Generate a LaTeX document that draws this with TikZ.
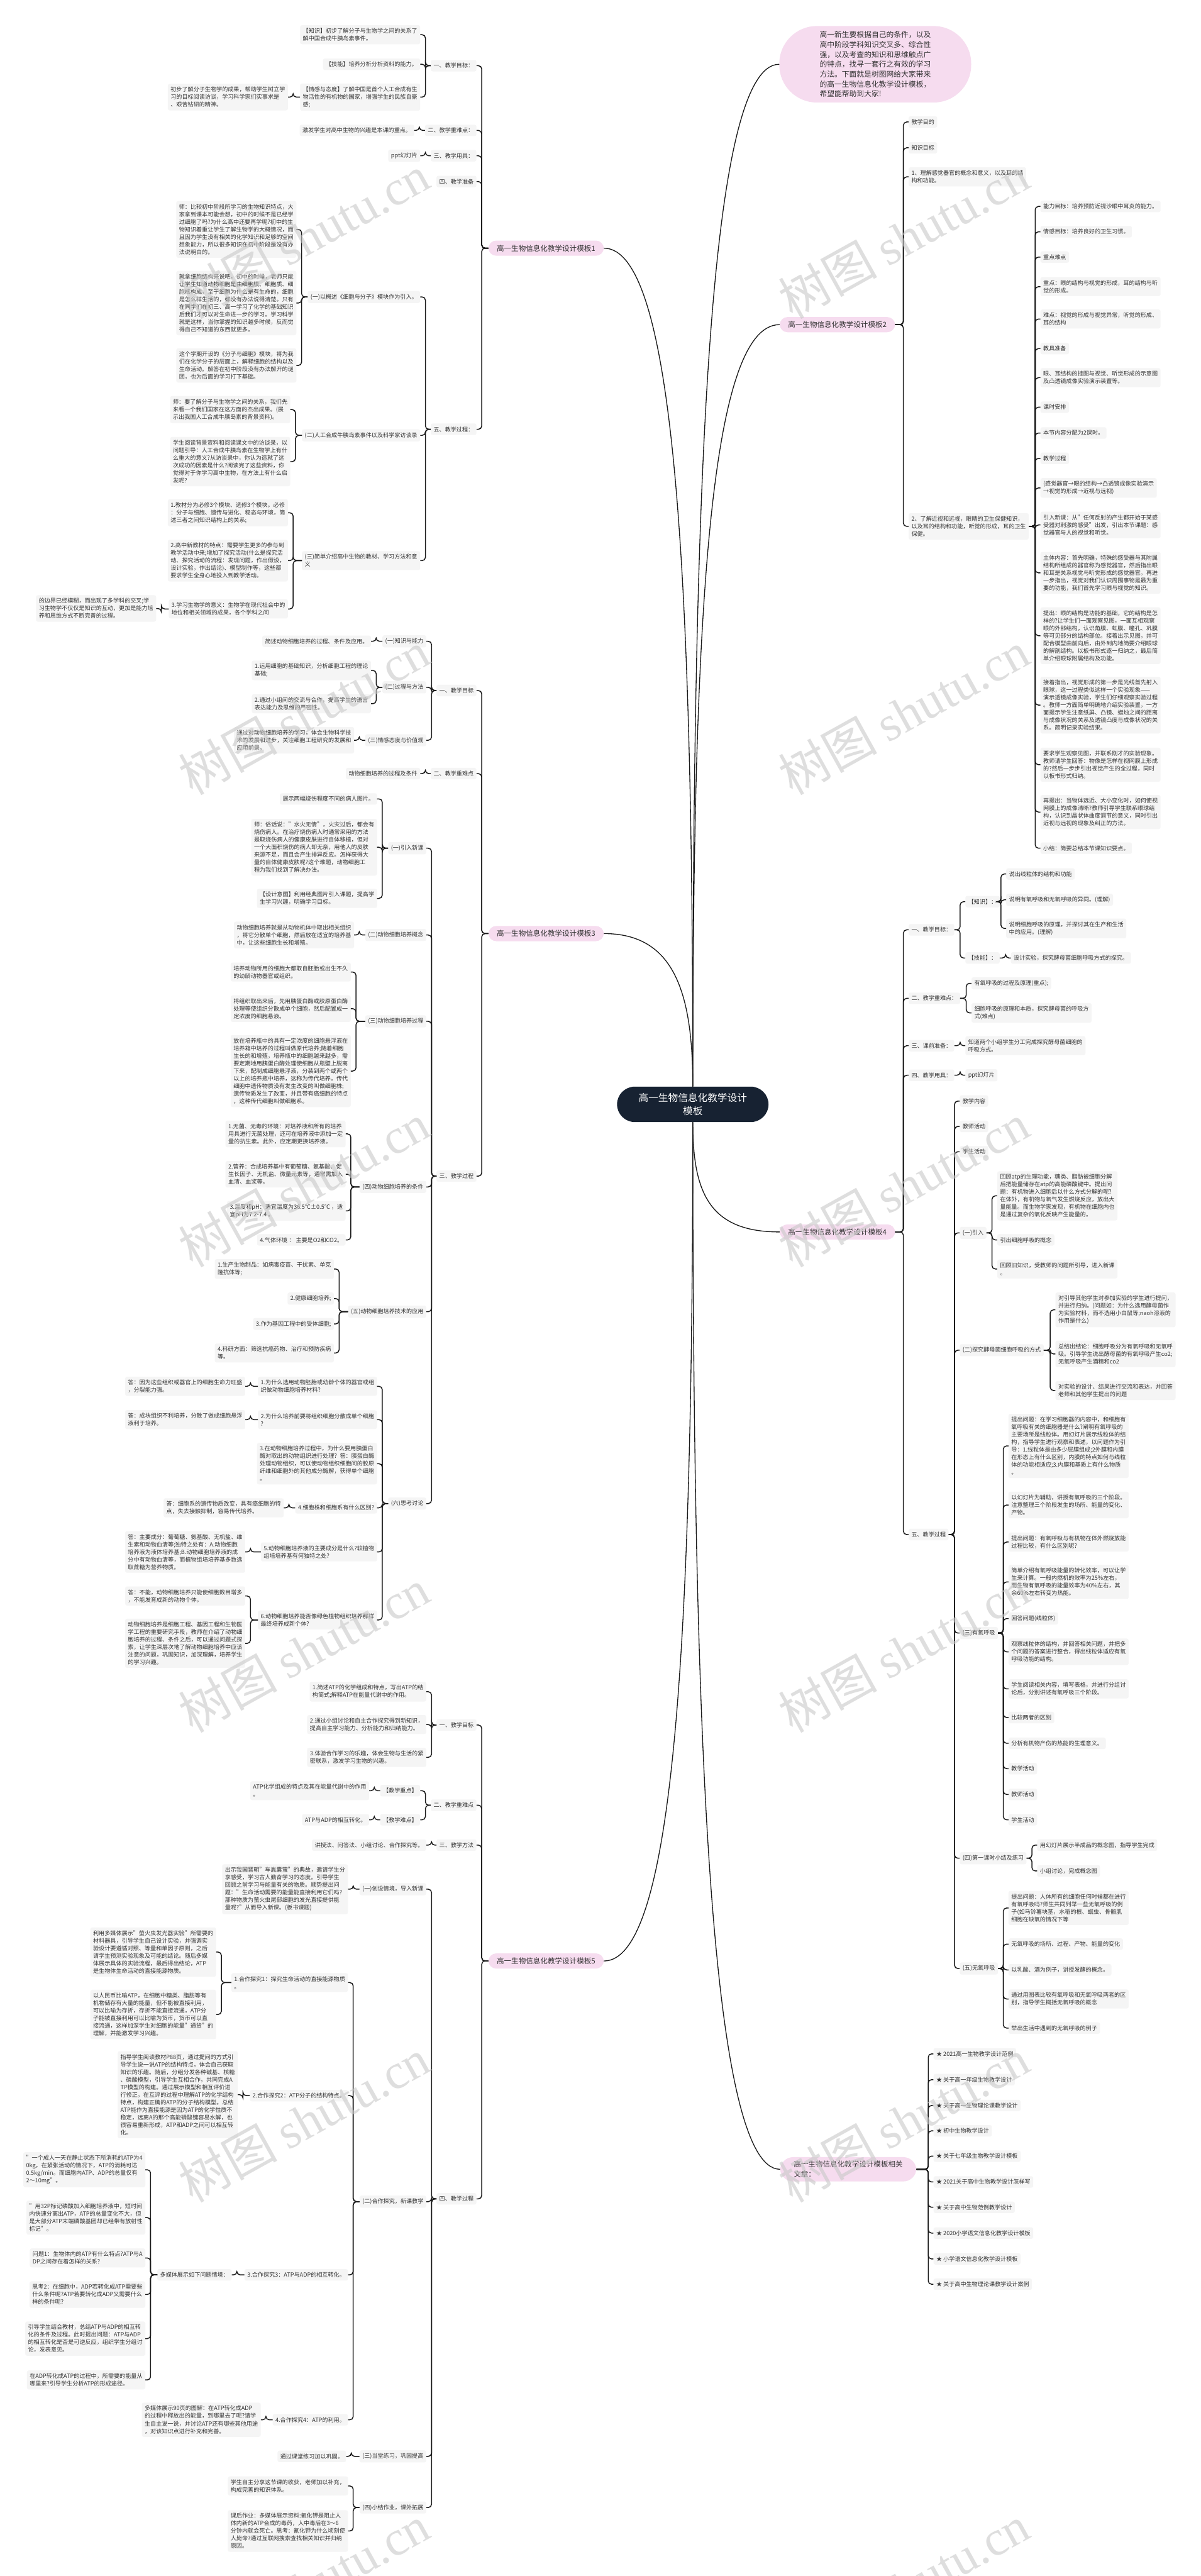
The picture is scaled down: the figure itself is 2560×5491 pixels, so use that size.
\documentclass[tikz,border=0pt]{standalone}
\usepackage{fontspec}
\setmainfont{Noto Sans CJK SC}
\newfontfamily\wmlat{Liberation Serif}
\usetikzlibrary{calc}
\definecolor{boxfill}{HTML}{F5F5F5}
\definecolor{txt}{HTML}{333333}
\definecolor{linec}{HTML}{1A1A1A}
\definecolor{pinkc}{HTML}{F6DCEF}
\definecolor{rootc}{HTML}{172232}
\definecolor{wmc}{HTML}{C8C8C8}
\newcommand\bodyfont{\fontsize{12.2}{16.1}\selectfont}
\newcommand\tplfont{\fontsize{15.5}{21.5}\selectfont}
\newcommand\rootfont{\fontsize{21}{28}\selectfont}
\newcommand\LK[2]{\draw[conn] (#1.west) -- ($(#1.west -| #2.east)+(11,0)$) |- (#2.east);}
\newcommand\RK[2]{\draw[conn] (#1.east) -- ($(#1.east -| #2.west)+(-11,0)$) |- (#2.west);}
\newcommand\LKs[2]{\foreach \chn in {#2}{\LK{#1}{\chn}}}
\newcommand\RKs[2]{\foreach \chn in {#2}{\RK{#1}{\chn}}}
\tikzset{
 bx/.style={fill=boxfill, rounded corners=4pt, inner xsep=6pt, inner ysep=6.5pt, align=left, text=txt, font=\bodyfont},
 lb/.style={bx, anchor=east},
 rb/.style={bx, anchor=west},
 tpl/.style={fill=pinkc, rounded corners=17pt, inner xsep=18pt, inner ysep=9pt, align=left, text=txt, font=\tplfont, anchor=west},
 conn/.style={draw=linec, line width=2pt, rounded corners=7pt},
 mconn/.style={draw=linec, line width=1.8pt},
 wm/.style={text=wmc, opacity=0.6, rotate=29, font=\fontsize{105}{105}\selectfont},
}
\begin{document}
\begin{tikzpicture}[x=1pt,y=-1pt]
\fill[white] (0,0) rectangle (2560,5491);
\useasboundingbox (0,0) rectangle (2560,5491);

% ---------------- root and intro
\node[fill=rootc, text=white, rounded corners=38pt, inner xsep=46pt, inner ysep=14pt, align=center, font=\rootfont] (root) at (1477,2354) {高一生物信息化教学设计\\模板};
\node[fill=pinkc, rounded corners=80pt, minimum width=409pt, minimum height=163pt, align=left, text=txt, font=\fontsize{15.8}{21}\selectfont] (intro) at (1866,137) {高一新生要根据自己的条件，以及\\高中阶段学科知识交叉多、综合性\\强，以及考查的知识和思维触点广\\的特点，找寻一套行之有效的学习\\方法。下面就是树图网给大家带来\\的高一生物信息化教学设计模板，\\希望能帮助到大家!};

% ---------------- template 1
\node[tpl] (t1) at (1041,529) {高一生物信息化教学设计模板1};
\node[lb] (t1a) at (1016,140) {一、教学目标：};
\node[lb] (t1b) at (1016,278) {二、教学重难点：};
\node[lb] (t1c) at (1016,332) {三、教学用具：};
\node[lb] (t1d) at (1016,387) {四、教学准备};
\node[lb] (t1e) at (1016,915) {五、教学过程：};
\node[lb] (t1a1) at (896,74) {【知识】初步了解分子与生物学之间的关系了\\解中国合成牛胰岛素事件。};
\node[lb] (t1a2) at (896,137) {【技能】培养分析分析资料的能力。};
\node[lb] (t1a3) at (896,207) {【情感与态度】了解中国是首个人工合成有生\\物活性的有机物的国家，增强学生的民族自豪\\感;};
\node[lb] (t1a3a) at (614,207) {初步了解分子生物学的成果，帮助学生树立学\\习的目标阅读访谈，学习科学家们实事求是\\、艰苦钻研的精神。};
\node[lb] (t1b1) at (883,278) {激发学生对高中生物的兴趣是本课的重点。};
\node[lb] (t1c1) at (896,332) {ppt幻灯片};
\node[lb] (t1e1) at (896,633) {(一)以概述《细胞与分子》模块作为引入。};
\node[lb] (t1e1a) at (632,489) {师：比较初中阶段所学习的生物知识特点，大\\家拿到课本可能会想，初中的时候不是已经学\\过细胞了吗?为什么高中还要再学呢?初中的生\\物知识着重让学生了解生物学的大概情况，而\\且因为学生没有相关的化学知识和足够的空间\\想象能力，所以很多知识在初中阶段是没有办\\法说明白的。};
\node[lb] (t1e1b) at (632,646) {就拿细胞结构来说吧，初中的时候，老师只能\\让学生知道动物细胞是由细胞膜、细胞质、细\\胞核构成，至于细胞为什么是有生命的，细胞\\是怎么样生活的，都没有办法说得清楚。只有\\在同学们在初三、高一学习了化学的基础知识\\后我们才可以对生命进一步的学习。学习科学\\就是这样，当你掌握的知识越多时候，反而觉\\得自己不知道的东西就更多。};
\node[lb] (t1e1c) at (632,779) {这个学期开设的《分子与细胞》模块，将为我\\们在化学分子的层面上，解释细胞的结构以及\\生命活动。解答在初中阶段没有办法解开的谜\\团，也为后面的学习打下基础。};
\node[lb] (t1e2) at (896,928) {(二)人工合成牛胰岛素事件以及科学家访谈录};
\node[lb] (t1e2a) at (619,873) {师：要了解分子与生物学之间的关系，我们先\\来看一个我们国家在这方面的杰出成果。(展\\示出我国人工合成牛胰岛素的背景资料)。};
\node[lb] (t1e2b) at (619,984) {学生阅读背景资料和阅读课文中的访谈录，以\\问题引导：人工合成牛胰岛素在生物学上有什\\么重大的意义?从访谈录中，你认为造就了这\\次成功的因素是什么?阅读完了这些资料，你\\觉得对于你学习高中生物，在方法上有什么启\\发呢?};
\node[lb] (t1e3) at (896,1195) {(三)简单介绍高中生物的教材、学习方法和意\\义};
\node[lb] (t1e3a) at (614,1093) {1.教材分为必修3个模块、选修3个模块。必修\\：分子与细胞、遗传与进化、稳态与环境，简\\述三者之间知识结构上的关系;};
\node[lb] (t1e3b) at (614,1195) {2.高中新教材的特点：需要学生更多的参与到\\教学活动中来;增加了探究活动(什么是探究活\\动、探究活动的流程：发现问题，作出假设，\\设计实验，作出结论)、模型制作等，这些都\\要求学生全身心地投入到教学活动。};
\node[lb] (t1e3c) at (614,1298) {3.学习生物学的意义：生物学在现代社会中的\\地位和相关领域的成果，各个学科之间};
\node[lb] (t1e3c1) at (333,1297) {的边界已经模糊，而出现了多学科的交叉;学\\习生物学不仅仅是知识的互动，更加是能力培\\养和思维方式不断完善的过程。};
\LKs{t1}{t1a,t1b,t1c,t1d,t1e}
\LKs{t1a}{t1a1,t1a2,t1a3}
\LK{t1a3}{t1a3a}
\LK{t1b}{t1b1}
\LK{t1c}{t1c1}
\LKs{t1e}{t1e1,t1e2,t1e3}
\LKs{t1e1}{t1e1a,t1e1b,t1e1c}
\LKs{t1e2}{t1e2a,t1e2b}
\LKs{t1e3}{t1e3a,t1e3b,t1e3c}
\LK{t1e3c}{t1e3c1}

% ---------------- template 3
\node[tpl] (t3) at (1041,1990) {高一生物信息化教学设计模板3};
\node[lb] (t3a) at (1016,1472) {一、教学目标};
\node[lb] (t3b) at (1016,1649) {二、教学重难点};
\node[lb] (t3c) at (1016,2507) {三、教学过程};
\node[lb] (t3a1) at (909,1367) {(一)知识与能力};
\node[lb] (t3a1a) at (791,1367) {简述动物细胞培养的过程、条件及应用。};
\node[lb] (t3a2) at (909,1465) {(二)过程与方法};
\node[lb] (t3a2a) at (791,1429) {1.运用细胞的基础知识，分析细胞工程的理论\\基础;};
\node[lb] (t3a2b) at (791,1500) {2.通过小组间的交流与合作，提高学生的语言\\表达能力及思维的严密性。};
\node[lb] (t3a3) at (909,1578) {(三)情感态度与价值观};
\node[lb] (t3a3a) at (755,1578) {通过对动物细胞培养的学习，体会生物科学技\\术的发展和进步，关注细胞工程研究的发展和\\应用前景。};
\node[lb] (t3b1) at (896,1649) {动物细胞培养的过程及条件};
\node[lb] (t3c1) at (909,1808) {(一)引入新课};
\node[lb] (t3c1a) at (804,1703) {展示两幅烧伤程度不同的病人图片。};
\node[lb] (t3c1b) at (804,1806) {师：俗话说："水火无情"，火灾过后，都会有\\烧伤病人。在治疗烧伤病人时通常采用的方法\\是取烧伤病人的健康皮肤进行自体移植，但对\\一个大面积烧伤的病人却无奈，用他人的皮肤\\来源不足，而且会产生排异反应。怎样获得大\\量的自体健康皮肤呢?这个难题，动物细胞工\\程为我们找到了解决办法。};
\node[lb] (t3c1c) at (804,1915) {【设计意图】利用经典图片引入课题，提高学\\生学习兴趣，明确学习目标。};
\node[lb] (t3c2) at (909,1993) {(二)动物细胞培养概念};
\node[lb] (t3c2a) at (755,1993) {动物细胞培养就是从动物机体中取出相关组织\\，将它分散单个细胞，然后放在适宜的培养基\\中，让这些细胞生长和增殖。};
\node[lb] (t3c3) at (909,2177) {(三)动物细胞培养过程};
\node[lb] (t3c3a) at (748,2072) {培养动物所用的细胞大都取自胚胎或出生不久\\的幼龄动物器官或组织。};
\node[lb] (t3c3b) at (748,2150) {将组织取出来后，先用胰蛋白酶或胶原蛋白酶\\处理等使组织分散成单个细胞，然后配置成一\\定浓度的细胞悬液。};
\node[lb] (t3c3c) at (748,2283) {放在培养瓶中的具有一定浓度的细胞悬浮液在\\培养箱中培养的过程叫做原代培养;随着细胞\\生长的和增殖，培养瓶中的细胞越来越多，需\\要定期地用胰蛋白酶处理使细胞从瓶壁上脱离\\下来，配制成细胞悬浮液，分装到两个或两个\\以上的培养瓶中培养，这称为传代培养。传代\\细胞中遗传物质没有发生改变的叫做细胞株;\\遗传物质发生了改变，并且带有癌细胞的特点\\，这种传代细胞叫做细胞系。};
\node[lb] (t3c4) at (909,2530) {(四)动物细胞培养的条件};
\node[lb] (t3c4a) at (737,2417) {1.无菌、无毒的环境：对培养液和所有的培养\\用具进行无菌处理，还可在培养液中添加一定\\量的抗生素。此外，应定期更换培养液。};
\node[lb] (t3c4b) at (737,2503) {2.营养：合成培养基中有葡萄糖、氨基酸、促\\生长因子、无机盐、微量元素等，通常需加入\\血清、血浆等。};
\node[lb] (t3c4c) at (737,2581) {3.温度和pH：适宜温度为36.5℃±0.5℃ ，适\\宜pH为7.2-7.4 。};
\node[lb] (t3c4d) at (737,2643) {4.气体环境 ： 主要是O2和CO2。};
\node[lb] (t3c5) at (909,2796) {(五)动物细胞培养技术的应用};
\node[lb] (t3c5a) at (712,2705) {1.生产生物制品：如病毒疫苗、干扰素、单克\\隆抗体等;};
\node[lb] (t3c5b) at (712,2768) {2.健康细胞培养;};
\node[lb] (t3c5c) at (712,2822) {3.作为基因工程中的受体细胞;};
\node[lb] (t3c5d) at (712,2884) {4.科研方面：筛选抗癌药物、治疗和预防疾病\\等。};
\node[lb] (t3c6) at (909,3205) {(六)思考讨论};
\node[lb] (t3c6a) at (804,2955) {1.为什么选用动物胚胎或幼龄个体的器官或组\\织做动物细胞培养材料?};
\node[lb] (t3c6a1) at (523,2955) {答：因为这些组织或器官上的细胞生命力旺盛\\，分裂能力强。};
\node[lb] (t3c6b) at (804,3026) {2.为什么培养前要将组织细胞分散成单个细胞\\?};
\node[lb] (t3c6b1) at (523,3026) {答：成块组织不利培养，分散了做成细胞悬浮\\液利于培养。};
\node[lb] (t3c6c) at (804,3120) {3.在动物细胞培养过程中，为什么要用胰蛋白\\酶对取出的动物组织进行处理？答：胰蛋白酶\\处理动物组织，可以使动物组织细胞间的胶原\\纤维和细胞外的其他成分酶解，获得单个细胞\\。};
\node[lb] (t3c6d) at (804,3214) {4.细胞株和细胞系有什么区别?};
\node[lb] (t3c6d1) at (605,3214) {答：细胞系的遗传物质改变，具有癌细胞的特\\点，失去接触抑制，容易传代培养。};
\node[lb] (t3c6e) at (804,3308) {5.动物细胞培养液的主要成分是什么?较植物\\组培培养基有何独特之处?};
\node[lb] (t3c6e1) at (523,3308) {答：主要成分：葡萄糖、氨基酸、无机盐、维\\生素和动物血清等;独特之处有：A.动物细胞\\培养液为液体培养基;B.动物细胞培养液的成\\分中有动物血清等，而植物组培培养基多数选\\取蔗糖为营养物质。};
\node[lb] (t3c6f) at (804,3453) {6.动物细胞培养能否像绿色植物组织培养那样\\最终培养成新个体?};
\node[lb] (t3c6f1) at (523,3402) {答：不能，动物细胞培养只能使细胞数目增多\\，不能发育成新的动物个体。};
\node[lb] (t3c6f2) at (523,3503) {动物细胞培养是细胞工程、基因工程和生物医\\学工程的重要研究手段，教师在介绍了动物细\\胞培养的过程、条件之后，可以通过问题式探\\索，让学生深层次地了解动物细胞培养中应该\\注意的问题，巩固知识，加深理解，培养学生\\的学习兴趣。};
\LKs{t3}{t3a,t3b,t3c}
\LKs{t3a}{t3a1,t3a2,t3a3}
\LK{t3a1}{t3a1a}
\LKs{t3a2}{t3a2a,t3a2b}
\LK{t3a3}{t3a3a}
\LK{t3b}{t3b1}
\LKs{t3c}{t3c1,t3c2,t3c3,t3c4,t3c5,t3c6}
\LKs{t3c1}{t3c1a,t3c1b,t3c1c}
\LK{t3c2}{t3c2a}
\LKs{t3c3}{t3c3a,t3c3b,t3c3c}
\LKs{t3c4}{t3c4a,t3c4b,t3c4c,t3c4d}
\LKs{t3c5}{t3c5a,t3c5b,t3c5c,t3c5d}
\LKs{t3c6}{t3c6a,t3c6b,t3c6c,t3c6d,t3c6e,t3c6f}
\LK{t3c6a}{t3c6a1}
\LK{t3c6b}{t3c6b1}
\LK{t3c6d}{t3c6d1}
\LK{t3c6e}{t3c6e1}
\LKs{t3c6f}{t3c6f1,t3c6f2}

% ---------------- template 5
\node[tpl] (t5) at (1041,4180) {高一生物信息化教学设计模板5};
\node[lb] (t5a) at (1016,3677) {一、教学目标};
\node[lb] (t5b) at (1016,3848) {二、教学重难点};
\node[lb] (t5c) at (1016,3933) {三、教学方法};
\node[lb] (t5d) at (1016,4687) {四、教学过程};
\node[lb] (t5a1) at (909,3606) {1.简述ATP的化学组成和特点，写出ATP的结\\构简式;解释ATP在能量代谢中的作用。};
\node[lb] (t5a2) at (909,3676) {2.通过小组讨论和自主合作探究得到新知识，\\提高自主学习能力、分析能力和归纳能力。};
\node[lb] (t5a3) at (909,3746) {3.体验合作学习的乐趣，体会生物与生活的紧\\密联系，激发学习生物的兴趣。};
\node[lb] (t5b1) at (896,3817) {【教学重点】};
\node[lb] (t5b1a) at (787,3817) {ATP化学组成的特点及其在能量代谢中的作用\\。};
\node[lb] (t5b2) at (896,3879) {【教学难点】};
\node[lb] (t5b2a) at (787,3879) {ATP与ADP的相互转化。};
\node[lb] (t5c1) at (909,3933) {讲授法、问答法、小组讨论、合作探究等。};
\node[lb] (t5d1) at (909,4027) {(一)创设情境，导入新课};
\node[lb] (t5d1a) at (742,4027) {出示我国晋朝"车胤囊萤"的典故，邀请学生分\\享感受，学习古人勤奋学习的态度。引导学生\\回顾之前学习与能量有关的物质。顺势提出问\\题："生命活动需要的能量能直接利用它们吗?\\那种物质为萤火虫尾部细胞的发光直接提供能\\量呢?"从而导入新课。(板书课题)};
\node[lb] (t5d2) at (909,4693) {(二)合作探究，新课教学};
\node[lb] (t5d2a) at (742,4226) {1.合作探究1：探究生命活动的直接能源物质\\。};
\node[lb] (t5d2a1) at (461,4161) {利用多媒体展示"萤火虫发光器实验"所需要的\\材料器具，引导学生自己设计实验，并强调实\\验设计要遵循对照、等量和单因子原则，之后\\请学生预测实验现象及可能的结论。随后多媒\\体展示具体的实验流程，最后得出结论，ATP\\是生物体生命活动的直接能源物质。};
\node[lb] (t5d2a2) at (461,4294) {以人民币比喻ATP，在细胞中糖类、脂肪等有\\机物储存有大量的能量，但不能被直接利用，\\可以比喻为存折，存折不能直接流通，ATP分\\子能被直接利用可以比喻为货币，货币可以直\\接流通，这样加深学生对细胞的能量"通货"的\\理解，并能激发学习兴趣。};
\node[lb] (t5d2b) at (742,4467) {2.合作探究2：ATP分子的结构特点。};
\node[lb] (t5d2b1) at (507,4465) {指导学生阅读教材P88页，通过提问的方式引\\导学生说一说ATP的结构特点，体会自己获取\\知识的乐趣。随后，分组分发各种碱基、核糖\\、磷酸模型，引导学生互相合作，共同完成A\\TP模型的构建。通过展示模型和相互评价进\\行修正，在互评的过程中理解ATP的化学结构\\特点，构建正确的ATP的分子结构模型。总结\\ATP能作为直接能源是因为ATP的化学性质不\\稳定，远离A的那个高能磷酸键容易水解，也\\很容易重新形成，ATP和ADP之间可以相互转\\化。};
\node[lb] (t5d2c) at (742,4849) {3.合作探究3：ATP与ADP的相互转化。};
\node[lb] (t5d2c1) at (494,4849) {多媒体展示如下问题情境：};
\node[lb] (q1) at (310,4625) {"一个成人一天在静止状态下所消耗的ATP为4\\0kg，在紧张活动的情况下，ATP的消耗可达\\0.5kg/min。而细胞内ATP、ADP的总量仅有\\2～10mg"。};
\node[lb] (q2) at (310,4727) {"用32P标记磷酸加入细胞培养液中，短时间\\内快速分离出ATP，ATP的总量变化不大，但\\是大部分ATP末端磷酸基团却已经带有放射性\\标记"。};
\node[lb] (q3) at (310,4813) {问题1：生物体内的ATP有什么特点?ATP与A\\DP之间存在着怎样的关系?};
\node[lb] (q4) at (310,4891) {思考2：在细胞中，ADP若转化成ATP需要些\\什么条件呢?ATP若要转化成ADP又需要什么\\样的条件呢?};
\node[lb] (q5) at (310,4985) {引导学生结合教材，总结ATP与ADP的相互转\\化的条件及过程。此时提出问题：ATP与ADP\\的相互转化是否是可逆反应，组织学生分组讨\\论，发表意见。};
\node[lb] (q6) at (310,5073) {在ADP转化成ATP的过程中，所需要的能量从\\哪里来?引导学生分析ATP的形成途径。};
\node[lb] (t5d2d) at (742,5158) {4.合作探究4：ATP的利用。};
\node[lb] (t5d2d1) at (556,5158) {多媒体展示90页的图解：在ATP转化成ADP\\的过程中释放出的能量，到哪里去了呢?请学\\生自主说一说，并讨论ATP还有哪些其他用途\\，对该知识点进行补充和完善。};
\node[lb] (t5d3) at (909,5236) {(三)当堂练习，巩固提高};
\node[lb] (t5d3a) at (738,5236) {通过课堂练习加以巩固。};
\node[lb] (t5d4) at (909,5345) {(四)小结作业，课外拓展};
\node[lb] (t5d4a) at (742,5299) {学生自主分享这节课的收获，老师加以补充，\\构成完善的知识体系。};
\node[lb] (t5d4b) at (742,5395) {课后作业：多媒体展示资料:氰化钾是阻止人\\体内新的ATP合成的毒药，人中毒后在3～6\\分钟内就会死亡。思考：氰化钾为什么顷刻使\\人毙命?通过互联网搜索查找相关知识并归纳\\原因。};
\LKs{t5}{t5a,t5b,t5c,t5d}
\LKs{t5a}{t5a1,t5a2,t5a3}
\LKs{t5b}{t5b1,t5b2}
\LK{t5b1}{t5b1a}
\LK{t5b2}{t5b2a}
\LK{t5c}{t5c1}
\LKs{t5d}{t5d1,t5d2,t5d3,t5d4}
\LK{t5d1}{t5d1a}
\LKs{t5d2}{t5d2a,t5d2b,t5d2c,t5d2d}
\LKs{t5d2a}{t5d2a1,t5d2a2}
\LK{t5d2b}{t5d2b1}
\LK{t5d2c}{t5d2c1}
\LKs{t5d2c1}{q1,q2,q3,q4,q5,q6}
\LK{t5d2d}{t5d2d1}
\LK{t5d3}{t5d3a}
\LKs{t5d4}{t5d4a,t5d4b}

% ---------------- template 2
\node[tpl] (t2) at (1662,692) {高一生物信息化教学设计模板2};
\node[rb] (t2a) at (1937,260) {教学目的};
\node[rb] (t2b) at (1937,315) {知识目标};
\node[rb] (t2c) at (1937,377) {1、理解感觉器官的概念和意义，以及耳的结\\构和功能。};
\node[rb] (t2d) at (1937,1122) {2、了解近视和远视，眼睛的卫生保健知识，\\以及耳的结构和功能，听觉的形成，耳的卫生\\保健。};
\node[rb] (d1) at (2218,440) {能力目标：培养预防近视沙眼中耳炎的能力。};
\node[rb] (d2) at (2218,494) {情感目标：培养良好的卫生习惯。};
\node[rb] (d3) at (2218,548) {重点难点};
\node[rb] (d4) at (2218,611) {重点：眼的结构与视觉的形成，耳的结构与听\\觉的形成。};
\node[rb] (d5) at (2218,680) {难点：视觉的形成与视觉异常，听觉的形成、\\耳的结构};
\node[rb] (d6) at (2218,743) {教具准备};
\node[rb] (d7) at (2218,805) {眼、耳结构的挂图与视觉、听觉形成的示意图\\及凸透镜成像实验演示装置等。};
\node[rb] (d8) at (2218,868) {课时安排};
\node[rb] (d9) at (2218,923) {本节内容分配为2课时。};
\node[rb] (d10) at (2218,977) {教学过程};
\node[rb] (d11) at (2218,1040) {(感觉器官→眼的结构→凸透镜成像实验演示\\→视觉的形成→近视与远视)};
\node[rb] (d12) at (2218,1119) {引入新课：从"任何反射的产生都开始于某感\\受器对刺激的感受"出发，引出本节课题：感\\觉器官与人的视觉和听觉。};
\node[rb] (d13) at (2218,1221) {主体内容：首先明确，特殊的感受器与其附属\\结构所组成的器官称为感觉器官，然后指出眼\\和耳是关系视觉与听觉形成的感觉器官。再进\\一步指出，视觉对我们认识周围事物是最为重\\要的功能，我们首先学习眼与视觉的知识。};
\node[rb] (d14) at (2218,1355) {提出：眼的结构是功能的基础，它的结构是怎\\样的?让学生们一面观察见图，一面互相观察\\眼的外部结构，认识角膜、虹膜、瞳孔、巩膜\\等可见部分的结构部位。接着出示见图，并可\\配合模型由前向后，由外到内地简要介绍眼球\\的解剖结构。以板书形式逐一归纳之，最后简\\单介绍眼球附属结构及功能。};
\node[rb] (d15) at (2218,1503) {接着指出，视觉形成的第一步是光线首先射入\\眼球，这一过程类似这样一个实验现象——\\演示透镜成像实验，学生们仔细观察实验过程\\。教师一方面简单明确地介绍实验装置，一方\\面提示学生注意纸屏、凸镜、蜡烛之间的距离\\与成像状况的关系及透镜凸度与成像状况的关\\系。简明记录实验结果。};
\node[rb] (d16) at (2218,1630) {要求学生观察见图，并联系刚才的实验现象。\\教师请学生回答：物像是怎样在视网膜上形成\\的?然后一步步引出视觉产生的全过程，同时\\以板书形式归纳。};
\node[rb] (d17) at (2218,1731) {再提出：当物体远近、大小变化时，如何使视\\网膜上的成像清晰?教师引导学生联系眼球结\\构，认识到晶状体曲度调节的意义，同时引出\\近视与远视的现象及纠正的方法。};
\node[rb] (d18) at (2218,1808) {小结：简要总结本节课知识要点。};
\RKs{t2}{t2a,t2b,t2c,t2d}
\RKs{t2d}{d1,d2,d3,d4,d5,d6,d7,d8,d9,d10,d11,d12,d13,d14,d15,d16,d17,d18}

% ---------------- template 4
\node[tpl] (t4) at (1662,2626) {高一生物信息化教学设计模板4};
\node[rb] (t4a) at (1937,1982) {一、教学目标：};
\node[rb] (t4b) at (1937,2128) {二、教学重难点：};
\node[rb] (t4c) at (1937,2229) {三、课前准备：};
\node[rb] (t4d) at (1937,2292) {四、教学用具：};
\node[rb] (t4e) at (1937,3271) {五、教学过程};
\node[rb] (t4a1) at (2058,1922) {【知识】：};
\node[rb] (t4a1a) at (2145,1863) {说出线粒体的结构和功能};
\node[rb] (t4a1b) at (2145,1918) {说明有氧呼吸和无氧呼吸的异同。(理解)};
\node[rb] (t4a1c) at (2145,1979) {说明细胞呼吸的原理，并探讨其在生产和生活\\中的应用。(理解)};
\node[rb] (t4a2) at (2058,2042) {【技能】：};
\node[rb] (t4a2a) at (2155,2042) {设计实验，探究酵母菌细胞呼吸方式的探究。};
\node[rb] (t4b1) at (2071,2096) {有氧呼吸的过程及原理(重点);};
\node[rb] (t4b2) at (2071,2159) {细胞呼吸的原理和本质，探究酵母菌的呼吸方\\式(难点)};
\node[rb] (t4c1) at (2058,2229) {知道两个小组学生分工完成探究酵母菌细胞的\\呼吸方式。};
\node[rb] (t4d1) at (2058,2292) {ppt幻灯片};
\node[rb] (e1) at (2046,2347) {教学内容};
\node[rb] (e2) at (2046,2401) {教师活动};
\node[rb] (e3) at (2046,2455) {学生活动};
\node[rb] (e4) at (2046,2628) {(一)引入};
\node[rb] (e4a) at (2126,2549) {回顾atp的生理功能，糖类、脂肪被细胞分解\\后把能量储存在atp的高能磷酸键中。提出问\\题：有机物进入细胞后以什么方式分解的呢?\\在体外，有机物与氧气发生燃烧反应，放出大\\量能量。而生物学家发现，有机物在细胞内也\\是通过复杂的氧化反映产生能量的。};
\node[rb] (e4b) at (2126,2643) {引出细胞呼吸的概念};
\node[rb] (e4c) at (2126,2705) {回顾旧知识，受教师的问题所引导，进入新课\\。};
\node[rb] (e5) at (2046,2878) {(二)探究酵母菌细胞呼吸的方式};
\node[rb] (e5a) at (2250,2792) {对引导其他学生对参加实验的学生进行提问，\\并进行归纳。(问题如：为什么选用酵母菌作\\为实验材料，而不选用小白鼠等;naoh溶液的\\作用是什么)};
\node[rb] (e5b) at (2250,2886) {总结出结论：细胞呼吸分为有氧呼吸和无氧呼\\吸。引导学生说出酵母菌的有氧呼吸产生co2;\\无氧呼吸产生酒精和co2};
\node[rb] (e5c) at (2250,2964) {对实验的设计、结果进行交流和表达，并回答\\老师和其他学生提出的问题};
\node[rb] (e6) at (2046,3481) {(三)有氧呼吸};
\node[rb] (e6a) at (2150,3082) {提出问题：在学习细胞器的内容中，和细胞有\\氧呼吸有关的细胞器是什么?阐明有氧呼吸的\\主要场所是线粒体。用幻灯片展示线粒体的结\\构，指导学生进行观察和表述，以问题作为引\\导：1.线粒体是由多少层膜组成;2外膜和内膜\\在形态上有什么区别，内膜的特点如何与线粒\\体的功能相适应;3.内膜和基质上有什么物质\\。};
\node[rb] (e6b) at (2150,3208) {以幻灯片为辅助，讲授有氧呼吸的三个阶段。\\注意整理三个阶段发生的场所、能量的变化、\\产物。};
\node[rb] (e6c) at (2150,3287) {提出问题：有氧呼吸与有机物在体外燃烧放能\\过程比较，有什么区别呢?};
\node[rb] (e6d) at (2150,3372) {简单介绍有氧呼吸能量的转化效率，可以让学\\生来计算。一般内燃机的效率为25\%左右，\\而生物有氧呼吸的能量效率为40\%左右，其\\余60\%左右转变为热能。};
\node[rb] (e6e) at (2150,3450) {回答问题(线粒体)};
\node[rb] (e6f) at (2150,3521) {观察线粒体的结构，并回答相关问题，并把多\\个问题的答案进行整合，得出线粒体适应有氧\\呼吸功能的结构。};
\node[rb] (e6g) at (2150,3600) {学生阅读相关内容，填写表格，并进行分组讨\\论后，分别讲述有氧呼吸三个阶段。};
\node[rb] (e6h) at (2150,3661) {比较两者的区别};
\node[rb] (e6i) at (2150,3716) {分析有机物产伤的热能的生理意义。};
\node[rb] (e6j) at (2150,3770) {教学活动};
\node[rb] (e6k) at (2150,3825) {教师活动};
\node[rb] (e6l) at (2150,3879) {学生活动};
\node[rb] (e7) at (2046,3961) {(四)第一课时小结及练习};
\node[rb] (e7a) at (2211,3933) {用幻灯片展示半成品的概念图，指导学生完成};
\node[rb] (e7b) at (2211,3988) {小组讨论，完成概念图};
\node[rb] (e8) at (2046,4196) {(五)无氧呼吸};
\node[rb] (e8a) at (2150,4067) {提出问题：人体所有的细胞任何时候都在进行\\有氧呼吸吗?师生共同列举一些无氧呼吸的例\\子(如马铃薯块茎，水稻的根、蛔虫、骨骼肌\\细胞在缺氧的情况下等};
\node[rb] (e8b) at (2150,4144) {无氧呼吸的场所、过程、产物、能量的变化};
\node[rb] (e8c) at (2150,4199) {以乳酸、酒为例子，讲授发酵的概念。};
\node[rb] (e8d) at (2150,4261) {通过用图表比较有氧呼吸和无氧呼吸两者的区\\别，指导学生概括无氧呼吸的概念};
\node[rb] (e8e) at (2150,4323) {举出生活中遇到的无氧呼吸的例子};
\RKs{t4}{t4a,t4b,t4c,t4d,t4e}
\RKs{t4a}{t4a1,t4a2}
\RKs{t4a1}{t4a1a,t4a1b,t4a1c}
\RK{t4a2}{t4a2a}
\RKs{t4b}{t4b1,t4b2}
\RK{t4c}{t4c1}
\RK{t4d}{t4d1}
\RKs{t4e}{e1,e2,e3,e4,e5,e6,e7,e8}
\RKs{e4}{e4a,e4b,e4c}
\RKs{e5}{e5a,e5b,e5c}
\RKs{e6}{e6a,e6b,e6c,e6d,e6e,e6f,e6g,e6h,e6i,e6j,e6k,e6l}
\RKs{e7}{e7a,e7b}
\RKs{e8}{e8a,e8b,e8c,e8d,e8e}

% ---------------- related articles
\node[tpl, rounded corners=28pt, inner xsep=29pt, inner ysep=8pt] (t6) at (1663,4624) {高一生物信息化教学设计模板相关\\文章：};
\node[rb] (r1) at (1990,4378) {★ 2021高一生物教学设计范例};
\node[rb] (r2) at (1990,4433) {★ 关于高一年级生物教学设计};
\node[rb] (r3) at (1990,4488) {★ 关于高一生物理论课教学设计};
\node[rb] (r4) at (1990,4542) {★ 初中生物教学设计};
\node[rb] (r5) at (1990,4596) {★ 关于七年级生物教学设计模板};
\node[rb] (r6) at (1990,4651) {★ 2021关于高中生物教学设计怎样写};
\node[rb] (r7) at (1990,4705) {★ 关于高中生物范例教学设计};
\node[rb] (r8) at (1990,4760) {★ 2020小学语文信息化教学设计模板};
\node[rb] (r9) at (1990,4815) {★ 小学语文信息化教学设计模板};
\node[rb] (r10) at (1990,4869) {★ 关于高中生物理论课教学设计案例};
\RKs{t6}{r1,r2,r3,r4,r5,r6,r7,r8,r9,r10}

% ---------------- root connectors (curves from top / bottom of root)
\draw[mconn] (root.north) .. controls +(0,-1100) and +(150,0) .. (t1.east);
\draw[mconn] (root.north) .. controls +(0,-200) and +(150,0) .. (t3.east);
\draw[mconn] (root.south) .. controls +(0,1100) and +(150,0) .. (t5.east);
\draw[mconn] (root.north) .. controls +(0,-1300) and +(-150,0) .. (intro.west);
\draw[mconn] (root.north) .. controls +(0,-1000) and +(-150,0) .. (t2.west);
\draw[mconn] (root.south) .. controls +(0,150) and +(-150,0) .. (t4.west);
\draw[mconn] (root.south) .. controls +(0,1300) and +(-150,0) .. (t6.west);

% ---------------- watermarks
\foreach \wx in {648,1927}{
 \foreach \wy in {505,1520,2526,3518,4520,5515}{
  \node[wm] (wm-\wx-\wy) at (\wx,\wy) {树图 {\wmlat shutu.cn}};
 }
}
\end{tikzpicture}
\end{document}
